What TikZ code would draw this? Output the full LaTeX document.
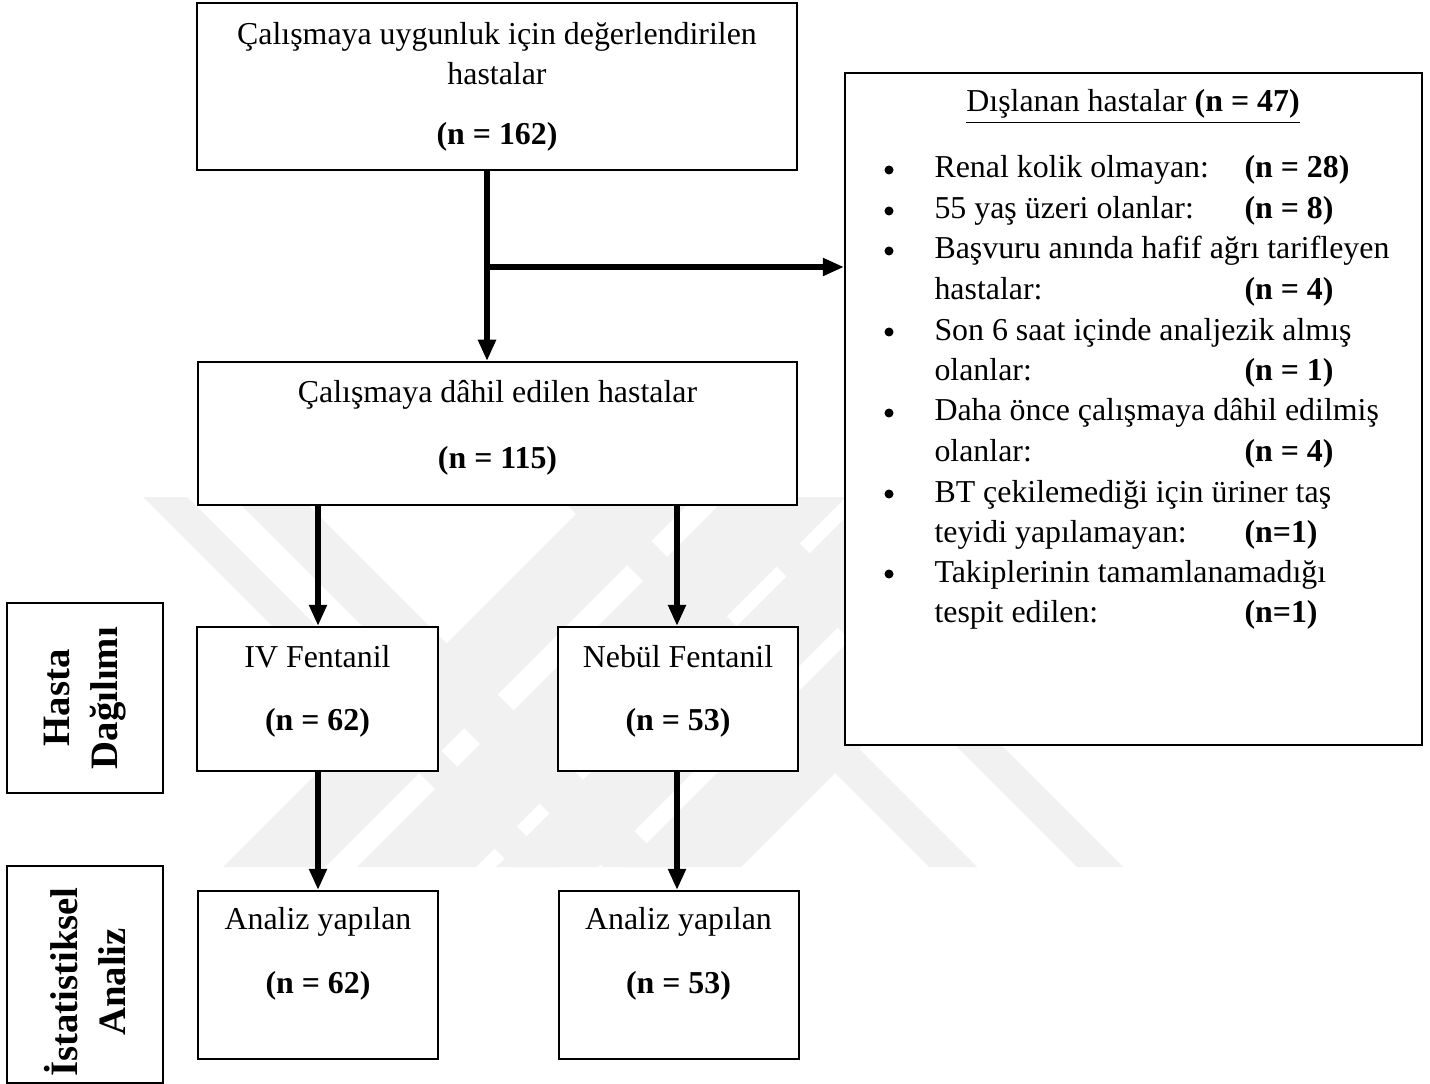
\documentclass[tikz,border=0pt]{standalone}
\usepackage{fontspec}
\setmainfont{Liberation Serif}
\usetikzlibrary{arrows.meta}
\definecolor{wm}{HTML}{F1F1F1}
\begin{document}
\begin{tikzpicture}[x=0.4pt,y=-0.4pt,
  box/.style={draw, line width=0.8pt, inner sep=0pt, fill=white},
  arr/.style={line width=2.1pt, -{Triangle[length=8.5pt,width=6.8pt]}},
  txt/.style={font=\fontsize{12.75}{16.2}\selectfont, inner sep=0pt, anchor=base},
  lft/.style={txt, anchor=base west},
  side/.style={font=\fontsize{15.5}{19.2}\selectfont\bfseries, inner sep=0pt, rotate=90, align=center},
  band/.style={fill=wm, draw=none}
]
\useasboundingbox (0,0) rectangle (1430,1084);
\fill[white] (0,0) rectangle (1430,1084);

% faint watermark bands
\foreach \a/\b in {143/187, 233/300, 559/607, 707/753}
  \fill[band] (\a,497) -- (\b,497) -- (\b+370,867) -- (\a+370,867) -- cycle;
\foreach \a/\b in {223/325, 357/476, 496/598, 623/741}
  \fill[band] (\a,867) -- (\b,867) -- (\b+370,497) -- (\a+370,497) -- cycle;

% boxes
\node[box, minimum width=240pt, minimum height=66.8pt] (b1) at (497,86.5) {};
\node[box, minimum width=239.6pt, minimum height=57.2pt] (b2) at (497.5,433.5) {};
\node[box, minimum width=96.4pt, minimum height=57.6pt] (iv) at (317.5,699) {};
\node[box, minimum width=96pt, minimum height=57.6pt] (neb) at (678,699) {};
\node[box, minimum width=96pt, minimum height=67.2pt] (anl) at (318,975) {};
\node[box, minimum width=96pt, minimum height=67.2pt] (anr) at (678.5,975) {};
\node[box, minimum width=230.8pt, minimum height=268.8pt] (ex) at (1133.5,409) {};
\node[box, minimum width=62.4pt, minimum height=76pt] (lh) at (85,698) {};
\node[box, minimum width=62.4pt, minimum height=86.8pt] (li) at (85,974.5) {};

% texts in boxes
\node[txt] (t1a) at (497,45) {Çalışmaya uygunluk için değerlendirilen};
\node[txt] (t1b) at (497,85) {hastalar};
\node[txt] (t1c) at (497,145) {\textbf{(n = 162)}};
\node[txt] (t2a) at (497.5,402) {Çalışmaya dâhil edilen hastalar};
\node[txt] (t2b) at (497.5,468) {\textbf{(n = 115)}};
\node[txt] (t3a) at (317.5,667) {IV Fentanil};
\node[txt] (t3b) at (317.5,730) {\textbf{(n = 62)}};
\node[txt] (t4a) at (678,667) {Nebül Fentanil};
\node[txt] (t4b) at (678,730) {\textbf{(n = 53)}};
\node[txt] (t5a) at (318,929) {Analiz yapılan};
\node[txt] (t5b) at (318,993) {\textbf{(n = 62)}};
\node[txt] (t6a) at (678.5,929) {Analiz yapılan};
\node[txt] (t6b) at (678.5,993) {\textbf{(n = 53)}};

\node[side] (sh) at (85,698) {Hasta\\Dağılımı};
\node[side] (si) at (85,982) {İstatistiksel\\Analiz};

% exclusion list
\node[txt] (ttl) at (1133,112) {\underline{Dışlanan hastalar \textbf{(n = 47)}}};
\foreach \y/\a/\b [count=\i] in {
  178/{Renal kolik olmayan:}/{(n = 28)},
  219/{55 yaş üzeri olanlar:}/{(n = 8)},
  259/{Başvuru anında hafif ağrı tarifleyen}/{},
  300/{hastalar:}/{(n = 4)},
  340/{Son 6 saat içinde analjezik almış}/{},
  381/{olanlar:}/{(n = 1)},
  421/{Daha önce çalışmaya dâhil edilmiş}/{},
  461/{olanlar:}/{(n = 4)},
  502/{BT çekilemediği için üriner taş}/{},
  542/{teyidi yapılamayan:}/{(n=1)},
  582/{Takiplerinin tamamlanamadığı}/{},
  622/{tespit edilen:}/{(n=1)}}
{
  \node[lft] (ea\i) at (934,\y) {\a};
  \node[lft] (eb\i) at (1244,\y) {\textbf{\b}};
}
\foreach \y [count=\i] in {178,219,259,340,421,502,582}
  \fill (889,\y-8) circle[radius=1.8pt];

% connectors
\coordinate (j1) at (487,267);
\coordinate (c2) at (318,0);
\coordinate (c3) at (677,0);
\draw[arr] (j1 |- b1.south) -- (j1 |- b2.north);
\draw[arr] (j1) -- (j1 -| ex.west);
\draw[arr] (c2 |- b2.south) -- (c2 |- iv.north);
\draw[arr] (c3 |- b2.south) -- (c3 |- neb.north);
\draw[arr] (c2 |- iv.south) -- (c2 |- anl.north);
\draw[arr] (c3 |- neb.south) -- (c3 |- anr.north);
\end{tikzpicture}
\end{document}
